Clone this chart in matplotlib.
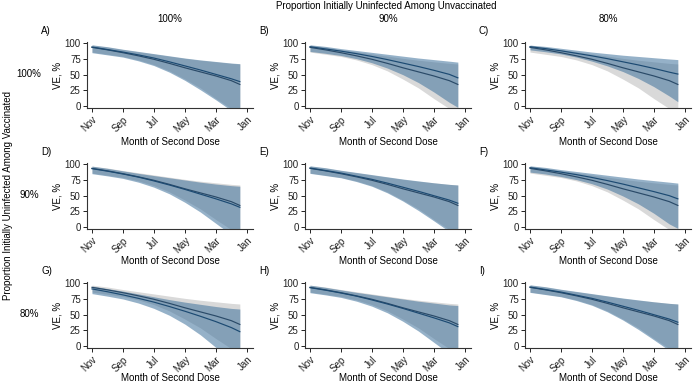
import matplotlib
matplotlib.use("Agg")
import matplotlib.pyplot as plt

plt.rcParams['font.family'] = ['Liberation Sans', 'DejaVu Sans']
plt.rcParams['font.size'] = 7

# months back from November (x axis runs Nov -> Jan of previous year)
months = [0, 1, 2, 3, 4, 5, 6, 7, 8, 9, 9.55]
tick_pos = [0, 2, 4, 6, 8, 10]
tick_labels = ['Nov', 'Sep', 'Jul', 'May', 'Mar', 'Jan']

col_labels = ['100%', '90%', '80%']
row_labels = ['100%', '90%', '80%']
panel_letters = ['A)', 'B)', 'C)', 'D)', 'E)', 'F)', 'G)', 'H)', 'I)']

# true VE (grey band), same in every panel
true_mid = [93.5, 89.5, 85, 80, 74.5, 68, 61, 54.5, 48, 40.5, 34.5]
true_hi = [97, 94, 90, 86.5, 83, 79.5, 76, 73, 70.5, 68, 67]
true_lo = [86, 82.5, 79, 73.5, 66, 56, 43, 29, 12, -4, -14]

# estimated VE (blue band), one set per panel
est_mid_A = [94, 90, 86, 81.5, 76.5, 70.5, 64, 57.5, 50.5, 43.5, 39]
est_hi_A = [97.5, 94.5, 90.5, 87, 83.5, 80, 76.5, 73.5, 71, 68.5, 67.5]
est_lo_A = [85, 81.5, 78, 72, 64.5, 54, 41, 26, 10, -7, -16]

est_mid_B = [94.5, 91, 87.5, 83.5, 79, 74, 68.5, 63, 57, 50.5, 45]
est_hi_B = [97.5, 95, 91.5, 88.5, 85.5, 82.5, 79.5, 76.5, 74, 71.5, 70]
est_lo_B = [87, 84, 80.5, 75.5, 69, 60.5, 50, 37.5, 22.5, 6, -2]

est_mid_C = [94.5, 91.5, 88, 84, 80, 75.5, 70.5, 65.5, 60, 54, 51]
est_hi_C = [97, 95, 92, 89, 86, 83.5, 81, 79, 77, 75, 74]
est_lo_C = [89.5, 86.5, 83, 78, 71.5, 64, 55, 44, 31, 16, 7]

est_mid_D = [93, 89, 84.5, 79.5, 73.5, 67, 60, 52.5, 45, 37, 31.5]
est_hi_D = [97, 93.5, 89.5, 85.5, 82, 78.5, 75, 71.5, 68.5, 66, 65]
est_lo_D = [85, 81.5, 77.5, 71.5, 63.5, 53, 39.5, 24, 6, -12, -22]

est_mid_E = [94, 90, 86, 81, 76, 70, 63.5, 57, 50, 43, 38]
est_hi_E = [97.5, 94.5, 90.5, 87, 83.5, 80, 76.5, 73.5, 70.5, 68, 67]
est_lo_E = [85.5, 82, 78.5, 72.5, 65, 54.5, 41.5, 26.5, 10, -7, -16]

est_mid_F = [94.5, 91, 87.5, 83.5, 79, 74, 68.5, 62.5, 56.5, 50, 45]
est_hi_F = [97.5, 95, 91.5, 88.5, 85.5, 82.5, 79.5, 76.5, 74, 71.5, 70]
est_lo_F = [87.5, 84.5, 80.5, 75.5, 69, 60.5, 49.5, 37, 22, 5, -2]

est_mid_G = [91, 86.5, 81.5, 76, 70, 63, 55.5, 47.5, 39, 29.5, 23]
est_hi_G = [95.5, 91.5, 87.5, 83, 78.5, 74, 70, 66.5, 63, 60, 59]
est_lo_G = [83.5, 79.5, 75, 68.5, 60, 49, 35, 18, -2, -22, -32]

est_mid_H = [93, 89, 84.5, 79.5, 73.5, 67, 60, 52.5, 45, 37, 31]
est_hi_H = [97, 93.5, 89.5, 85.5, 82, 78.5, 75, 71.5, 68.5, 65.5, 64.5]
est_lo_H = [85, 81.5, 77.5, 71.5, 63.5, 53, 39.5, 24, 6, -12, -22]

est_mid_I = [94, 90, 86, 81, 76, 70, 63.5, 57, 50, 43, 38]
est_hi_I = [97.5, 94.5, 90.5, 87, 83.5, 80, 76.5, 73.5, 70.5, 68, 67]
est_lo_I = [85.5, 82, 78.5, 72.5, 65, 54.5, 41.5, 26.5, 10, -7, -16]

est = [
    (est_mid_A, est_lo_A, est_hi_A), (est_mid_B, est_lo_B, est_hi_B), (est_mid_C, est_lo_C, est_hi_C),
    (est_mid_D, est_lo_D, est_hi_D), (est_mid_E, est_lo_E, est_hi_E), (est_mid_F, est_lo_F, est_hi_F),
    (est_mid_G, est_lo_G, est_hi_G), (est_mid_H, est_lo_H, est_hi_H), (est_mid_I, est_lo_I, est_hi_I),
]

W, H = 693, 385
fig = plt.figure(figsize=(W / 100, H / 100), dpi=100)

lefts = [87, 305, 525]
bottoms = [108, 229, 348]
xlabel_y = [-0.44, -0.41, -0.38]
aw, ah = 166, 66

for r in range(3):
    for c in range(3):
        i = r * 3 + c
        ax = fig.add_axes([lefts[c] / W, 1 - bottoms[r] / H, aw / W, ah / H])
        mid, lo, hi = est[i]
        ax.fill_between(months, true_lo, true_hi, color='#d9d9d9', lw=0, zorder=1)
        ax.fill_between(months, lo, hi, color='#3f729c', alpha=0.55, lw=0, zorder=2)
        ax.plot(months, true_mid, color='#2a4a68', lw=0.85, zorder=3)
        ax.plot(months, mid, color='#1c4a72', lw=0.85, zorder=3)

        ax.set_xlim(-0.32, 10.4)
        ax.set_ylim(-3, 102)
        ax.set_yticks([0, 25, 50, 75, 100])
        ax.set_xticks(tick_pos)
        ax.set_xticklabels(tick_labels, rotation=45, ha='right', rotation_mode='anchor')
        ax.tick_params(length=3, width=0.7, pad=1.5, colors='#222222')
        for s in ['top', 'right']:
            ax.spines[s].set_visible(False)
        for s in ['left', 'bottom']:
            ax.spines[s].set_linewidth(0.8)
            ax.spines[s].set_color('#333333')
        ax.set_ylabel('VE, %')
        ax.yaxis.set_label_coords(-0.15, 0.5)
        ax.set_xlabel('Month of Second Dose')
        ax.xaxis.set_label_coords(0.5, xlabel_y[r])

        fig.text((lefts[c] - 46) / W, 1 - (bottoms[r] - 77) / H, panel_letters[i],
                 ha='left', va='center')
        if r == 0:
            fig.text((lefts[c] + aw / 2) / W, 1 - 19 / H, col_labels[c], ha='center', va='center')
    fig.text(29 / W, 1 - (bottoms[r] - 34) / H, row_labels[r], ha='center', va='center')

fig.text(386 / W, 1 - 6 / H, 'Proportion Initially Uninfected Among Unvaccinated',
         ha='center', va='center')
fig.text(8 / W, 1 - 195 / H, 'Proportion Initially Uninfected Among Vaccinated',
         ha='center', va='center', rotation=90)

fig.savefig('out.png', dpi=100)
